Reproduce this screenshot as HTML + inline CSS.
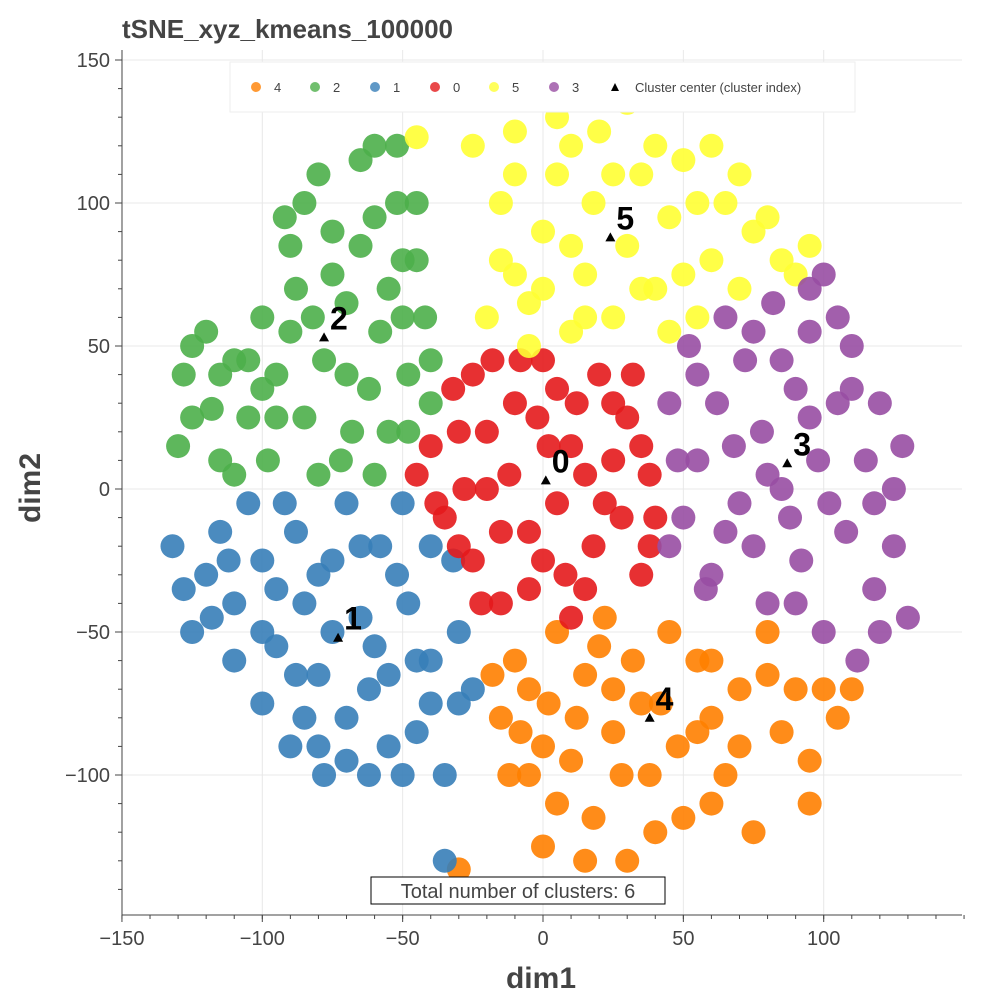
<!DOCTYPE html>
<html><head><meta charset="utf-8"><style>
body{margin:0;background:#fff;}
svg text{font-family:"Liberation Sans",sans-serif;}
</style></head><body>
<svg id="chart" width="1000" height="1000" xmlns="http://www.w3.org/2000/svg">
<rect width="1000" height="1000" fill="#fff"/>
<text x="122" y="38" font-size="26" font-weight="bold" fill="#444">tSNE_xyz_kmeans_100000</text>
<g id="grid"></g><g id="points"></g><g id="centers"></g><g id="axes"></g>
<g>
<rect x="230" y="62" width="625" height="50" fill="#fff" stroke="#eee"/>
<g id="legend"></g>
</g>
<rect x="371" y="877" width="294" height="27" fill="#fff" stroke="#000"/>
<text x="518" y="898" font-size="20" text-anchor="middle" fill="#444">Total number of clusters: 6</text>
<text x="541" y="988" font-size="30" font-weight="bold" text-anchor="middle" fill="#444">dim1</text>
<text x="0" y="0" font-size="30" font-weight="bold" text-anchor="middle" fill="#444" transform="translate(40,488) rotate(-90)">dim2</text>
</svg>
<script>
const NS="http://www.w3.org/2000/svg";
const clusterIds=["4","2","1","0","5","3"];
const clusterColors=["#ff7f00","#4daf4a","#377eb8","#e41a1c","#ffff33","#984ea3"];
const xTicks=[-150,-100,-50,0,50,100];
const yTicks=[-100,-50,0,50,100,150];
const centersX=[38,-78,-73,1,24,87];
const centersY=[-80,53,-52,3,88,9];
const pts4=[[-15,-80],[-10,-60],[-5,-100],[0,-125],[2,-75],[5,-50],[10,-95],[15,-65],[18,-115],[22,-45],[25,-85],[30,-130],[32,-60],[38,-100],[42,-75],[45,-50],[50,-115],[55,-85],[60,-60],[65,-100],[70,-70],[75,-120],[80,-50],[85,-85],[95,-95],[100,-70],[110,-70],[-12,-100],[-30,-133],
[-18,-65],[-5,-70],[-8,-85],[5,-110],[12,-80],[20,-55],[28,-100],[35,-75],[48,-90],[55,-60],[60,-110],[70,-90],[80,-65],[90,-70],[95,-110],[105,-80],[15,-130],[40,-120],[60,-80],[0,-90],[25,-70]];
const pts2=[[-130,15],[-128,40],[-120,55],[-118,28],[-110,45],[-105,25],[-100,60],[-98,10],[-95,40],[-90,85],[-88,70],[-85,25],[-80,110],[-78,45],[-75,90],[-72,10],[-70,65],[-65,115],[-62,35],[-60,95],[-58,55],[-55,20],[-52,120],[-50,80],[-48,40],[-45,100],[-42,60],[-40,30],[-60,5],[-110,5],[-125,50],[-80,5],[-92,95],[-55,70],
[-125,25],[-115,40],[-105,45],[-95,25],[-90,55],[-85,100],[-75,75],[-70,40],[-65,85],[-60,120],[-50,60],[-45,80],[-40,45],[-52,100],[-68,20],[-100,35],[-115,10],[-82,60],[-48,20]];
const pts1=[[-132,-20],[-125,-50],[-120,-30],[-115,-15],[-110,-40],[-105,-5],[-100,-25],[-100,-75],[-95,-55],[-90,-90],[-88,-15],[-85,-40],[-80,-65],[-78,-100],[-75,-25],[-70,-5],[-70,-80],[-65,-45],[-62,-100],[-58,-20],[-55,-65],[-50,-5],[-48,-40],[-45,-85],[-40,-60],[-35,-100],[-32,-25],[-30,-75],[-35,-130],[-62,-70],[-85,-80],[-110,-60],
[-128,-35],[-118,-45],[-112,-25],[-95,-35],[-92,-5],[-80,-30],[-75,-50],[-70,-95],[-65,-20],[-60,-55],[-52,-30],[-45,-60],[-40,-20],[-55,-90],[-50,-100],[-88,-65],[-100,-50],[-40,-75],[-30,-50],[-25,-70],[-80,-90]];
const pts0=[[-40,15],[-35,-10],[-32,35],[-28,0],[-25,-25],[-20,20],[-18,45],[-15,-40],[-12,5],[-10,30],[-5,-15],[-5,-35],[0,45],[2,15],[5,-5],[8,-30],[12,30],[15,5],[18,-20],[20,40],[25,10],[28,-10],[30,25],[35,-30],[38,5],[-45,5],[10,-45],[-25,40],[32,40],[40,-10],
[-38,-5],[-30,20],[-20,0],[-15,-15],[-8,45],[-2,25],[0,-25],[10,15],[15,-35],[22,-5],[25,30],[35,15],[38,-20],[-22,-40],[5,35],[-30,-20]];
const pts5=[[-20,60],[-15,80],[-15,100],[-10,125],[-5,65],[0,90],[5,110],[5,130],[10,55],[15,75],[18,100],[20,125],[25,60],[30,85],[35,110],[40,70],[45,95],[50,115],[55,60],[60,80],[65,100],[70,70],[75,90],[85,80],[95,85],[-45,123],[30,135],[-5,50],
[-10,75],[-10,110],[0,70],[10,85],[10,120],[25,110],[35,70],[40,120],[50,75],[55,100],[60,120],[80,95],[90,75],[15,60],[45,55],[-25,120],[70,110]];
const pts3=[[45,30],[50,-10],[52,50],[55,10],[60,-30],[62,30],[65,60],[70,-5],[72,45],[78,20],[80,-40],[82,65],[85,0],[90,35],[92,-25],[95,55],[98,10],[100,-50],[105,30],[108,-15],[110,50],[115,10],[118,-35],[120,30],[125,-20],[128,15],[130,-45],[112,-60],[100,75],[45,-20],[75,-20],
[48,10],[55,40],[65,-15],[68,15],[75,55],[85,45],[88,-10],[95,25],[102,-5],[110,35],[118,-5],[120,-50],[90,-40],[80,5],[58,-35],[125,0],[105,60],[95,70]];
const allPts=[pts4,pts2,pts1,pts0,pts5,pts3];
const X0=122,X1=962,Y0=50,Y1=915;
function sx(v){return 543+v*2.807;}
function sy(v){return 489-v*2.86;}
function mk(t,a,p){const e=document.createElementNS(NS,t);for(const k in a)e.setAttribute(k,a[k]);p.appendChild(e);return e;}
const grid=document.getElementById('grid'),axes=document.getElementById('axes');
xTicks.forEach(v=>{
 const g=mk('line',{x1:sx(v),x2:sx(v),y1:Y0,y2:Y1,stroke:'#e8e8e8'},grid);
 
 
 mk('line',{x1:sx(v),x2:sx(v),y1:Y1,y2:Y1+7,stroke:'#444'},axes);
 const t=mk('text',{x:sx(v),y:Y1+30,'font-size':20,'text-anchor':'middle',fill:'#444'},axes);
 t.textContent=v<0?'\u2212'+(-v):v;
 
 
});
yTicks.forEach(v=>{
 const g=mk('line',{x1:X0,x2:X1,y1:sy(v),y2:sy(v),stroke:'#e8e8e8'},grid);
 
 
 mk('line',{x1:X0-7,x2:X0,y1:sy(v),y2:sy(v),stroke:'#444'},axes);
 const t=mk('text',{x:X0-12,y:sy(v)+7,'font-size':20,'text-anchor':'end',fill:'#444'},axes);
 t.textContent=v<0?'\u2212'+(-v):v;
 
 
});
for(let v=-150;v<=150;v+=10){if(sx(v)>=X0-1)mk('line',{x1:sx(v),x2:sx(v),y1:Y1,y2:Y1+4,stroke:'#444'},axes);
 if(sy(v)>=Y0&&sy(v)<=Y1)mk('line',{x1:X0-4,x2:X0,y1:sy(v),y2:sy(v),stroke:'#444'},axes);}
mk('line',{x1:X0,x2:X1,y1:Y1,y2:Y1,stroke:'#444'},axes);
mk('line',{x1:X0,x2:X0,y1:Y0,y2:Y1,stroke:'#444'},axes);
const pg=document.getElementById('points');
allPts.forEach((arr,i)=>{arr.forEach(p=>{
 const c=mk('circle',{cx:sx(p[0]),cy:sy(p[1]),r:12,fill:clusterColors[i],'fill-opacity':0.9},pg);
 
 
});});
const cg=document.getElementById('centers');
centersX.forEach((x,i)=>{
 const px=sx(x),py=sy(centersY[i]);
 const m=mk('path',{d:`M${px-5},${py+4}L${px+5},${py+4}L${px},${py-5}Z`,fill:'#000'},cg);
 
 
 const t=mk('text',{x:px+6,y:py-8,'font-size':32,'font-weight':'bold',fill:'#000'},cg);
 t.textContent=clusterIds[i];
 
 
});
const lg=document.getElementById('legend');
const lx=[256,315,375,435,494,554];
clusterIds.forEach((id,i)=>{
 const c=mk('circle',{cx:lx[i],cy:87,r:5,fill:clusterColors[i],'fill-opacity':0.8},lg);
 
 
 const t=mk('text',{x:lx[i]+18,y:92,'font-size':13,fill:'#444'},lg);
 t.textContent=id;
 
 
});
const tm=mk('path',{d:'M611,91L619,91L615,83Z',fill:'#000'},lg);


const tt=mk('text',{x:635,y:92,'font-size':13,fill:'#444'},lg);
tt.textContent='Cluster center (cluster index)';


</script>
</body></html>
